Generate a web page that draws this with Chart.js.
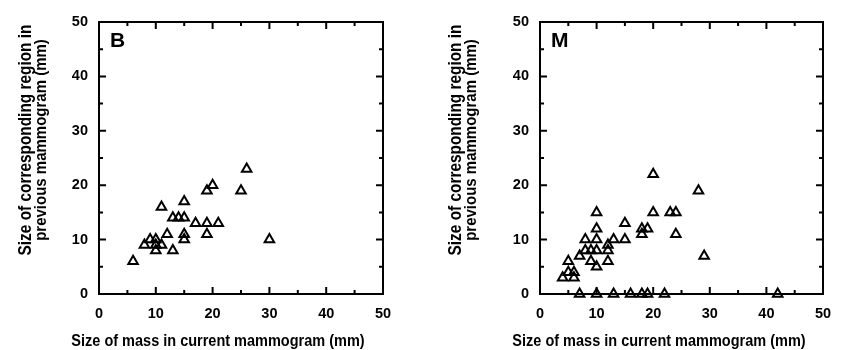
<!DOCTYPE html>
<html>
<head>
<meta charset="utf-8">
<script src="https://cdn.jsdelivr.net/npm/chart.js@4.4.1/dist/chart.umd.min.js"></script>
<style>
  html, body { margin: 0; padding: 0; background: #fff; }
  #wrap { position: relative; width: 861px; height: 350px; }
  canvas { position: absolute; top: 0; }
</style>
</head>
<body>
<div id="wrap">
  <canvas id="benign" width="430" height="350" style="left:0"></canvas>
  <canvas id="malignant" width="431" height="350" style="left:430px"></canvas>
</div>
<script>
// tick values shared by both axes of both panels
const axisTicks = [0, 10, 20, 30, 40, 50];
const minorTicks = [5, 15, 25, 35, 45];

// B panel: size now vs size of same region in the older mammogram
const benignCurrent  = [6, 8, 9, 10, 10, 10, 11, 11, 12, 13, 13, 14, 15, 15, 15, 15, 17, 19, 19, 19, 20, 21, 25, 26, 30];
const benignPrevious = [6, 9, 10, 10, 9, 8, 9, 16, 11, 8, 14, 14, 14, 17, 11, 10, 13, 13, 11, 19, 20, 13, 19, 23, 10];

// M panel
const malignantCurrent  = [4, 5, 5, 6, 6, 7, 7, 8, 8, 9, 9, 10, 10, 10, 10, 10, 10, 12, 12, 12, 13, 13,
                           15, 15, 16, 18, 18, 19, 18, 19, 20, 20, 22, 23, 24, 24, 28, 29, 42];
const malignantPrevious = [3, 6, 4, 4, 3, 7, 0, 10, 8, 8, 6, 15, 12, 10, 8, 5, 0, 9, 8, 6, 10, 0,
                           13, 10, 0, 11, 12, 12, 0, 0, 22, 15, 0, 15, 15, 11, 19, 7, 0];

const xTitle = "Size of mass in current mammogram (mm)";
const yTitle = ["Size of corresponding region in", "previous mammogram (mm)"];

const FONT = "'Liberation Sans', Arial, Helvetica, sans-serif";

// text drawn a bit taller than wide, like the original typesetting
function tallText(ctx, text, x, y, rot, size) {
    ctx.save();
    ctx.translate(x, y);
    if (rot) ctx.rotate(rot);
    ctx.scale(1, 1.15);
    ctx.font = "bold " + size + "px " + FONT;
    ctx.textAlign = "center";
    ctx.textBaseline = "middle";
    ctx.fillText(text, 0, 0);
    ctx.restore();
}

// frame, inward ticks on all four sides, titles and panel letter
const framePlugin = {
    id: "frame",
    beforeDatasetsDraw(chart) {
        const ctx = chart.ctx;
        const a = chart.chartArea;
        const xs = chart.scales.x;
        const ys = chart.scales.y;
        ctx.save();
        ctx.strokeStyle = "#000";
        ctx.lineWidth = 2;
        ctx.strokeRect(a.left, a.top, a.right - a.left, a.bottom - a.top);

        const mark = (vals, len) => {
            vals.forEach((v) => {
                const px = xs.getPixelForValue(v);
                const py = ys.getPixelForValue(v);
                ctx.beginPath();
                ctx.moveTo(px, a.bottom); ctx.lineTo(px, a.bottom - len);
                ctx.moveTo(px, a.top); ctx.lineTo(px, a.top + len);
                ctx.moveTo(a.left, py); ctx.lineTo(a.left + len, py);
                ctx.moveTo(a.right, py); ctx.lineTo(a.right - len, py);
                ctx.stroke();
            });
        };
        mark(axisTicks, 7);
        mark(minorTicks, 4);
        ctx.restore();
    },
    afterDraw(chart, args, opts) {
        const ctx = chart.ctx;
        const a = chart.chartArea;
        ctx.save();
        ctx.fillStyle = "#000";

        // panel letter
        ctx.font = "bold 21px " + FONT;
        ctx.textAlign = "left";
        ctx.textBaseline = "alphabetic";
        ctx.fillText(opts.letter, a.left + 11, a.top + 25);

        // x title
        tallText(ctx, xTitle, a.left + 119, 341, 0, 14.5);

        // y title, two rotated lines
        const cy = (a.top + a.bottom) / 2 - 18;
        tallText(ctx, yTitle[0], 26, cy, -Math.PI / 2, 15.4);
        tallText(ctx, yTitle[1], 41, cy, -Math.PI / 2, 15.0);
        ctx.restore();
    },
};

function makeChart(id, xs, ys, letter, yWidth, rightPad) {
    const points = xs.map((x, i) => ({ x: x, y: ys[i] }));
    const tickFont = { family: FONT, size: 14.5, weight: "bold" };
    return new Chart(document.getElementById(id), {
        type: "scatter",
        data: {
            datasets: [{
                data: points,
                pointStyle: "triangle",
                radius: 5.5,
                borderWidth: 2,
                borderColor: "#000",
                backgroundColor: "rgba(0,0,0,0)",
                clip: false,
            }],
        },
        plugins: [framePlugin],
        options: {
            responsive: false,
            animation: false,
            events: [],
            layout: { padding: { left: 0, right: rightPad, top: 22, bottom: 0 } },
            plugins: {
                legend: { display: false },
                tooltip: { enabled: false },
                frame: { letter: letter },
            },
            scales: {
                x: {
                    type: "linear",
                    min: 0,
                    max: 50,
                    afterBuildTicks: (s) => { s.ticks = axisTicks.map((v) => ({ value: v })); },
                    afterFit: (s) => { s.height = 56; },
                    grid: { display: false, drawTicks: false },
                    border: { display: false },
                    ticks: { color: "#000", font: tickFont, padding: 11, maxRotation: 0 },
                },
                y: {
                    type: "linear",
                    min: 0,
                    max: 50,
                    afterBuildTicks: (s) => { s.ticks = axisTicks.map((v) => ({ value: v })); },
                    afterFit: (s) => { s.width = yWidth; },
                    grid: { display: false, drawTicks: false },
                    border: { display: false },
                    ticks: { color: "#000", font: tickFont, padding: 11 },
                },
            },
        },
    });
}

makeChart("benign", benignCurrent, benignPrevious, "B", 99, 47);
makeChart("malignant", malignantCurrent, malignantPrevious, "M", 110, 38);
</script>
</body>
</html>
